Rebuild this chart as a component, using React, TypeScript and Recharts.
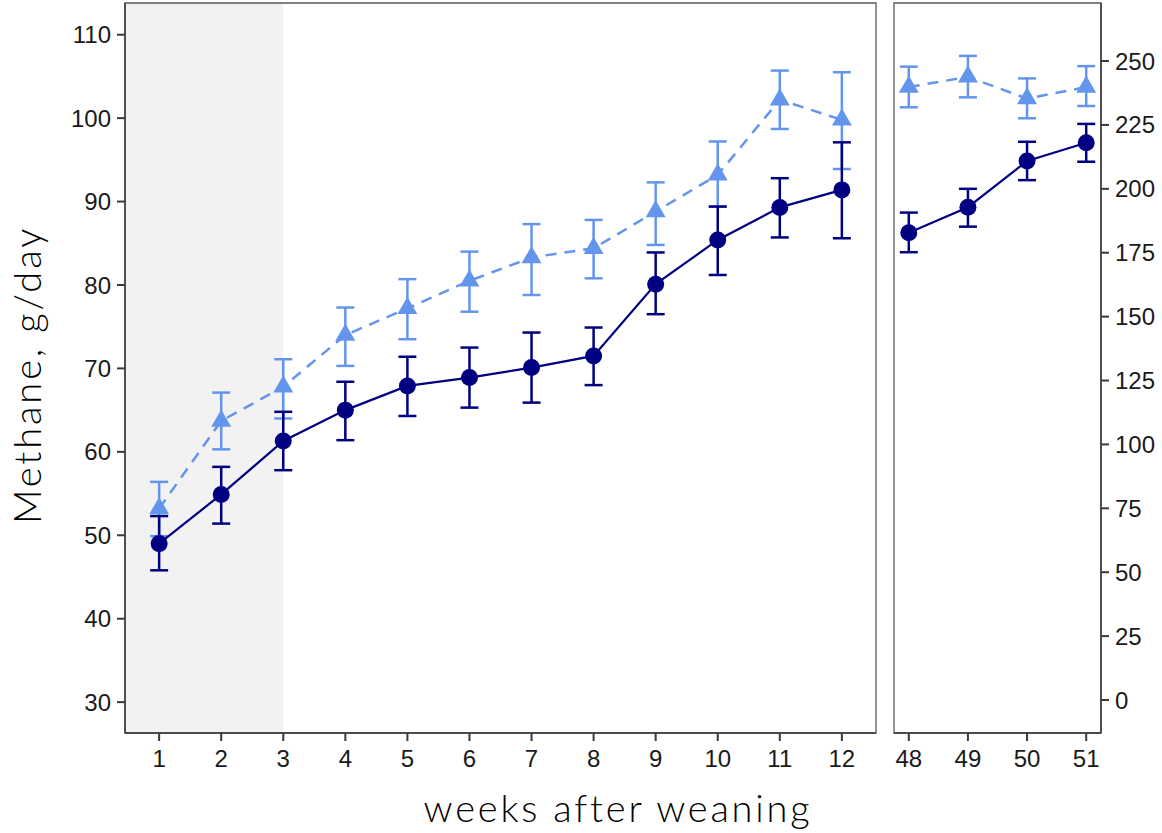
import React from 'react';
import { ComposedChart, Line, XAxis, YAxis, ErrorBar, ReferenceArea } from 'recharts';

// ---- data ----
const weeksEarly = [1, 2, 3, 4, 5, 6, 7, 8, 9, 10, 11, 12];
const ctrlEarly = [49.0, 54.9, 61.3, 65.0, 67.9, 68.9, 70.1, 71.5, 80.1, 85.4, 89.3, 91.4];
const ctrlLowEarly = [45.8, 51.4, 57.8, 61.4, 64.3, 65.3, 65.9, 68.0, 76.5, 81.2, 85.7, 85.6];
const ctrlHighEarly = [52.3, 58.2, 64.8, 68.4, 71.4, 72.5, 74.3, 74.9, 83.9, 89.4, 92.8, 97.1];
const trtEarly = [53.2, 63.7, 67.8, 74.0, 77.2, 80.5, 83.3, 84.4, 88.8, 93.2, 102.2, 99.8];
const trtLowEarly = [49.9, 60.3, 64.0, 70.3, 73.5, 76.8, 78.8, 80.8, 84.8, 89.4, 98.7, 93.9];
const trtHighEarly = [56.4, 67.1, 71.1, 77.3, 80.7, 84.0, 87.3, 87.8, 92.3, 97.2, 105.7, 105.5];

const weeksLate = [48, 49, 50, 51];
const ctrlLate = [182.8, 192.8, 210.9, 218.0];
const ctrlLowLate = [175.2, 185.2, 203.4, 210.6];
const ctrlHighLate = [190.7, 200.0, 218.4, 225.4];
const trtLate = [239.8, 243.8, 235.3, 239.8];
const trtLowLate = [231.9, 235.8, 227.6, 232.4];
const trtHighLate = [247.8, 252.0, 243.2, 248.0];

const leftTicks = [30, 40, 50, 60, 70, 80, 90, 100, 110];
const rightTicks = [0, 25, 50, 75, 100, 125, 150, 175, 200, 225, 250];
const shadedWeeks = [0.45, 3];

const leftXDomain = [0.45, 12.55];
const leftYDomain = [26.3, 113.8];
const rightXDomain = [47.75, 51.25];
const rightYDomain = [-12.9, 272.7];

// ---- styles ----
const NAVY = '#000080';
const LIGHT = '#6495ED';
const BORDER = '#5a5a5a';
const AXIS = '#3a3a3a';
const TICK_FAMILY = '"Liberation Sans", Arial, sans-serif';
const TICK_SIZE = 24;
const TICK_FONT = { fontFamily: TICK_FAMILY, fontSize: TICK_SIZE, fill: '#1a1a1a' };
const TITLE_FONT = 'Lato, "Noto Sans", sans-serif';

const build = (weeks: number[], c: number[], cl: number[], ch: number[], t: number[], tl: number[], th: number[]) =>
  weeks.map((w, i) => ({
    week: w,
    ctrl: c[i],
    ctrlErr: [+(c[i] - cl[i]).toFixed(2), +(ch[i] - c[i]).toFixed(2)],
    trt: t[i],
    trtErr: [+(t[i] - tl[i]).toFixed(2), +(th[i] - t[i]).toFixed(2)],
  }));

const earlyData = build(weeksEarly, ctrlEarly, ctrlLowEarly, ctrlHighEarly, trtEarly, trtLowEarly, trtHighEarly);
const lateData = build(weeksLate, ctrlLate, ctrlLowLate, ctrlHighLate, trtLate, trtLowLate, trtHighLate);

const TriangleDot = (props: any) => {
  const { cx, cy, index } = props;
  if (cx == null || cy == null) return <g key={`t${index}`} />;
  const r = 11.5;
  const pts = `${cx},${cy - r} ${cx + r * 0.866},${cy + r / 2} ${cx - r * 0.866},${cy + r / 2}`;
  return <polygon key={`t${index}`} points={pts} fill={LIGHT} stroke="none" />;
};

export default function App() {
  return (
    <div style={{ position: 'absolute', left: 0, top: 0, width: 1162, height: 833, background: '#fff' }}>
      <div style={{ position: 'absolute', left: 0, top: 0 }}>
        <ComposedChart width={880} height={833} data={earlyData} margin={{ top: 3, right: 4, bottom: 0, left: 65 }}>
          <ReferenceArea x1={shadedWeeks[0]} x2={shadedWeeks[1]} y1={leftYDomain[0]} y2={leftYDomain[1]} fill="#f2f2f2" fillOpacity={1} stroke="none" ifOverflow="visible" />
          <ReferenceArea x1={leftXDomain[0]} x2={leftXDomain[1]} y1={leftYDomain[0]} y2={leftYDomain[1]} fill="none" stroke={BORDER} strokeWidth={1.3} ifOverflow="visible" />
          <XAxis dataKey="week" type="number" domain={leftXDomain} ticks={weeksEarly} allowDataOverflow
            height={100} tickSize={8} tickMargin={9} tick={TICK_FONT} fontSize={TICK_SIZE} fontFamily={TICK_FAMILY}
            axisLine={{ stroke: AXIS, strokeWidth: 1.5 }} tickLine={{ stroke: AXIS, strokeWidth: 2 }} />
          <YAxis type="number" domain={leftYDomain} ticks={leftTicks} allowDataOverflow width={60}
            tickSize={8} tickMargin={6} tick={TICK_FONT} fontSize={TICK_SIZE} fontFamily={TICK_FAMILY}
            axisLine={{ stroke: AXIS, strokeWidth: 1.5 }} tickLine={{ stroke: AXIS, strokeWidth: 2 }} />
          <Line dataKey="trt" stroke={LIGHT} strokeWidth={2.5} strokeDasharray="11 8" isAnimationActive={false} dot={TriangleDot} activeDot={false}>
            <ErrorBar dataKey="trtErr" direction="y" width={9} stroke={LIGHT} strokeWidth={2.5} />
          </Line>
          <Line dataKey="ctrl" stroke={NAVY} strokeWidth={2.2} isAnimationActive={false} dot={{ r: 8.5, fill: NAVY, stroke: 'none' }} activeDot={false}>
            <ErrorBar dataKey="ctrlErr" direction="y" width={9} stroke={NAVY} strokeWidth={2.5} />
          </Line>
        </ComposedChart>
      </div>
      <div style={{ position: 'absolute', left: 880, top: 0 }}>
        <ComposedChart width={282} height={833} data={lateData} margin={{ top: 3, right: 6, bottom: 0, left: 14 }}>
          <ReferenceArea x1={rightXDomain[0]} x2={rightXDomain[1]} y1={rightYDomain[0]} y2={rightYDomain[1]} fill="none" stroke={BORDER} strokeWidth={1.3} ifOverflow="visible" />
          <XAxis dataKey="week" type="number" domain={rightXDomain} ticks={weeksLate} allowDataOverflow
            height={100} tickSize={8} tickMargin={9} tick={TICK_FONT} fontSize={TICK_SIZE} fontFamily={TICK_FAMILY}
            axisLine={{ stroke: AXIS, strokeWidth: 1.5 }} tickLine={{ stroke: AXIS, strokeWidth: 2 }} />
          <YAxis orientation="right" type="number" domain={rightYDomain} ticks={rightTicks} allowDataOverflow width={55}
            tickSize={8} tickMargin={6} tick={TICK_FONT} fontSize={TICK_SIZE} fontFamily={TICK_FAMILY}
            axisLine={{ stroke: AXIS, strokeWidth: 1.5 }} tickLine={{ stroke: AXIS, strokeWidth: 2 }} />
          <Line dataKey="trt" stroke={LIGHT} strokeWidth={2.5} strokeDasharray="11 8" isAnimationActive={false} dot={TriangleDot} activeDot={false}>
            <ErrorBar dataKey="trtErr" direction="y" width={9} stroke={LIGHT} strokeWidth={2.5} />
          </Line>
          <Line dataKey="ctrl" stroke={NAVY} strokeWidth={2.2} isAnimationActive={false} dot={{ r: 8.5, fill: NAVY, stroke: 'none' }} activeDot={false}>
            <ErrorBar dataKey="ctrlErr" direction="y" width={9} stroke={NAVY} strokeWidth={2.5} />
          </Line>
        </ComposedChart>
      </div>
      <div style={{ position: 'absolute', left: 318, top: 785, width: 600, textAlign: 'center', fontFamily: TITLE_FONT, fontWeight: 300, fontSize: 38, letterSpacing: '2.8px', color: '#000', lineHeight: '44px', whiteSpace: 'nowrap' }}>
        weeks after weaning
      </div>
      <div style={{ position: 'absolute', left: 26, top: 375, width: 0, height: 0 }}>
        <div style={{ position: 'absolute', left: -200, top: -22, width: 400, textAlign: 'center', transform: 'rotate(-90deg)', fontFamily: TITLE_FONT, fontWeight: 300, fontSize: 38, letterSpacing: '2.9px', color: '#000', lineHeight: '44px', whiteSpace: 'nowrap' }}>
          Methane, g/day
        </div>
      </div>
    </div>
  );
}
